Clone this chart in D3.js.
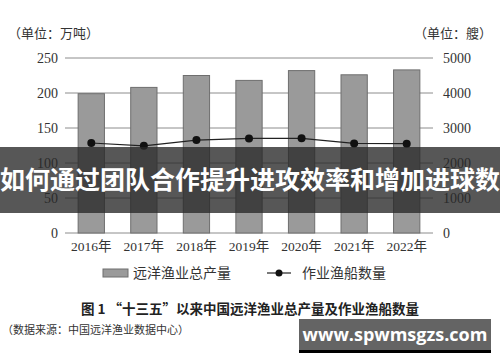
<!DOCTYPE html>
<html>
<head>
<meta charset="utf-8">
<script src="https://cdn.jsdelivr.net/npm/d3@7"></script>
<style>
  body { margin: 0; background: #fff; }
  svg { display: block; }
</style>
</head>
<body>
<div class="chart"></div>
<script>
// Chart data
var years = ["2016年", "2017年", "2018年", "2019年", "2020年", "2021年", "2022年"];
var output = [199, 208, 225, 218, 232, 226, 233];       // 远洋渔业总产量 (万吨)
var vessels = [2571, 2491, 2654, 2701, 2705, 2559, 2551]; // 作业渔船数量 (艘)
var leftTicks = [0, 50, 100, 150, 200, 250];
var rightTicks = [0, 1000, 2000, 3000, 4000, 5000];

var svgWidth = 500;
var svgHeight = 362;
var margin = { top: 58, left: 65, right: 67, bottom: 129 };
var width = svgWidth - margin.left - margin.right;
var height = svgHeight - margin.top - margin.bottom;

var serif = "'Liberation Serif', 'Noto Sans CJK SC', serif";
var cjk = "'Noto Sans CJK SC', sans-serif";

var svg = d3.select(".chart")
            .append("svg")
            .attr("width", svgWidth)
            .attr("height", svgHeight);

var chartGroup = svg.append("g")
                    .attr("transform", `translate(${margin.left}, ${margin.top})`);

// Scales
var xScale = d3.scaleBand().domain(years).range([0, width]).paddingInner(0.5).paddingOuter(0.25);
var yLeft = d3.scaleLinear().domain([0, 250]).range([height, 0]);
var yRight = d3.scaleLinear().domain([0, 5000]).range([height, 0]);

// Gridlines
chartGroup.selectAll(".grid")
          .data(leftTicks)
          .enter()
          .append("line")
          .attr("x1", 0)
          .attr("x2", width)
          .attr("y1", d => yLeft(d))
          .attr("y2", d => yLeft(d))
          .attr("stroke", "#8c8c8c")
          .attr("stroke-width", 1);

// Axes (text only)
var leftAxis = d3.axisLeft(yLeft).tickValues(leftTicks).tickSize(0).tickPadding(7);
var rightAxis = d3.axisRight(yRight).tickValues(rightTicks).tickFormat(d3.format("d")).tickSize(0).tickPadding(10);
var bottomAxis = d3.axisBottom(xScale).tickSize(0).tickPadding(8);

var gl = chartGroup.append("g").call(leftAxis);
var gr = chartGroup.append("g").attr("transform", `translate(${width}, 0)`).call(rightAxis);
var gb = chartGroup.append("g").attr("transform", `translate(0, ${height})`).call(bottomAxis);
[gl, gr, gb].forEach(function(g) {
    g.attr("font-family", null).attr("font-size", null);
    g.select(".domain").remove();
    g.selectAll("text")
     .style("font-family", serif)
     .style("font-size", "14px")
     .attr("fill", "#333");
});
gb.selectAll("text").style("font-size", "13.5px");

// Bars
chartGroup.selectAll(".bar")
          .data(output)
          .enter()
          .append("rect")
          .attr("x", (d, i) => xScale(years[i]))
          .attr("width", xScale.bandwidth())
          .attr("y", d => yLeft(d))
          .attr("height", d => height - yLeft(d))
          .attr("fill", "#9a9a9a")
          .attr("stroke", "#6e6e6e")
          .attr("stroke-width", 1);

// Line
var line = d3.line()
             .x((d, i) => xScale(years[i]) + xScale.bandwidth() / 2)
             .y(d => yRight(d));
chartGroup.append("path")
          .datum(vessels)
          .attr("d", line)
          .attr("fill", "none")
          .attr("stroke", "#222")
          .attr("stroke-width", 1.2);
chartGroup.selectAll(".dot")
          .data(vessels)
          .enter()
          .append("circle")
          .attr("cx", (d, i) => xScale(years[i]) + xScale.bandwidth() / 2)
          .attr("cy", d => yRight(d))
          .attr("r", 4)
          .attr("fill", "#111");

// Unit labels
svg.append("text").attr("x", 8).attr("y", 38)
   .attr("font-family", cjk).attr("font-size", 13).attr("fill", "#333")
   .text("（单位：万吨）");
svg.append("text").attr("x", 492).attr("y", 38).attr("text-anchor", "end")
   .attr("font-family", cjk).attr("font-size", 13).attr("fill", "#333")
   .text("（单位：艘）");

// Legend
svg.append("rect").attr("x", 103).attr("y", 269).attr("width", 25).attr("height", 8)
   .attr("fill", "#9a9a9a").attr("stroke", "#6e6e6e");
svg.append("text").attr("x", 133).attr("y", 278)
   .attr("font-family", cjk).attr("font-size", 14).attr("fill", "#333")
   .text("远洋渔业总产量");
svg.append("line").attr("x1", 267).attr("x2", 291).attr("y1", 273).attr("y2", 273)
   .attr("stroke", "#222").attr("stroke-width", 1.2);
svg.append("circle").attr("cx", 279).attr("cy", 273).attr("r", 3.5).attr("fill", "#111");
svg.append("text").attr("x", 302).attr("y", 278)
   .attr("font-family", cjk).attr("font-size", 14).attr("fill", "#333")
   .text("作业渔船数量");

// Caption and source
svg.append("text").attr("x", 250).attr("y", 314).attr("text-anchor", "middle")
   .attr("font-family", cjk).attr("font-size", 13.5).attr("font-weight", "bold").attr("fill", "#222")
   .text("图 1  “十三五”以来中国远洋渔业总产量及作业渔船数量");
svg.append("text").attr("x", 2).attr("y", 334)
   .attr("font-family", cjk).attr("font-size", 11).attr("fill", "#333")
   .text("（数据来源：中国远洋渔业数据中心）");

// Overlay banner
svg.append("rect").attr("x", 0).attr("y", 147).attr("width", svgWidth).attr("height", 66)
   .attr("fill", "rgba(40,40,40,0.78)");
svg.append("text").attr("x", 250).attr("y", 189).attr("text-anchor", "middle")
   .attr("font-family", cjk).attr("font-size", 25).attr("font-weight", "bold").attr("fill", "#fff")
   .attr("textLength", 500).attr("lengthAdjust", "spacingAndGlyphs")
   .text("如何通过团队合作提升进攻效率和增加进球数");

// Site badge
svg.append("rect").attr("x", 299).attr("y", 319).attr("width", 192).attr("height", 34).attr("fill", "#000");
svg.append("rect").attr("x", 299).attr("y", 319).attr("width", 192).attr("height", 31).attr("fill", "#646464");
svg.append("text").attr("x", 395).attr("y", 341).attr("text-anchor", "middle")
   .attr("font-family", "'Open Sans', sans-serif").attr("font-size", 18).attr("font-weight", "bold").attr("fill", "#fff")
   .text("www.spwmsgzs.com");
</script>
</body>
</html>
